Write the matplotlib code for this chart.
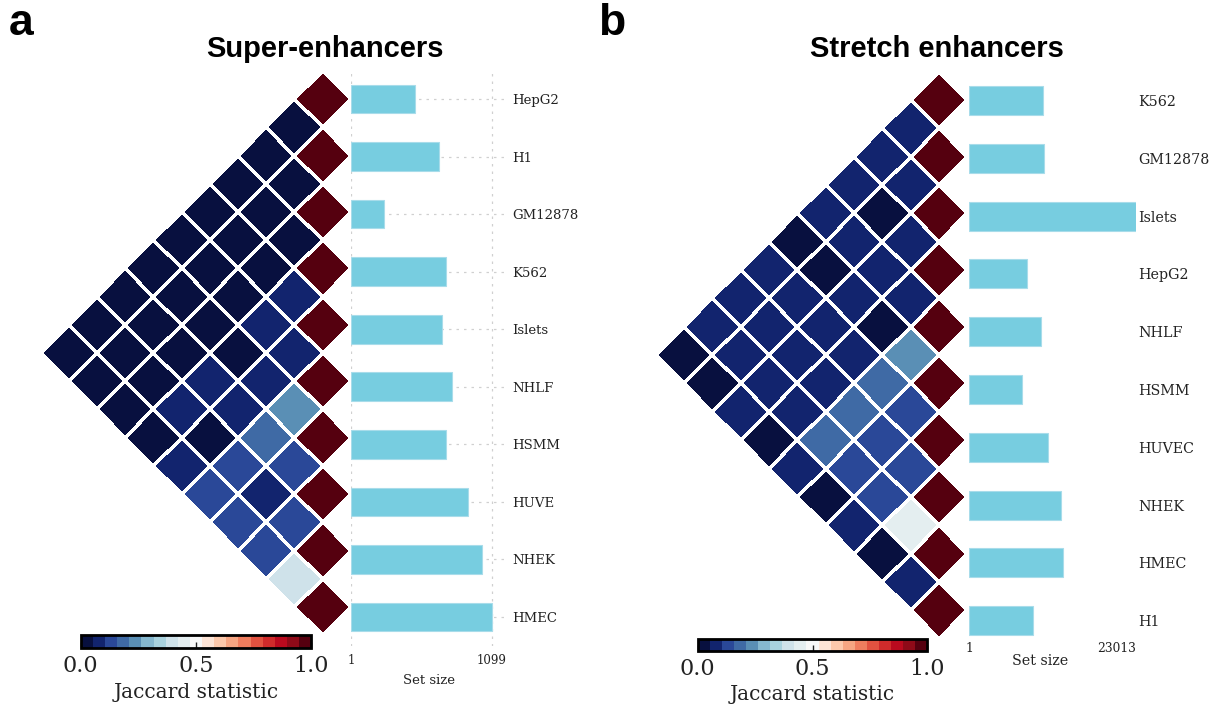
import numpy as np
import matplotlib
matplotlib.use("Agg")
import matplotlib.pyplot as plt
from matplotlib.colors import ListedColormap, Normalize
from matplotlib.transforms import Affine2D
from matplotlib.cm import ScalarMappable

# ---------------- data ----------------
se_labels = ["HepG2", "H1", "GM12878", "K562", "Islets",
             "NHLF", "HSMM", "HUVE", "NHEK", "HMEC"]
se_sizes = [498, 685, 257, 743, 707, 784, 743, 911, 1025, 1099]
# upper triangle of the Jaccard matrix, row i holds columns i+1 .. n-1
se_jaccard = [
    [0.02, 0.01, 0.03, 0.02, 0.03, 0.02, 0.02, 0.03, 0.02],
    [0.02, 0.03, 0.04, 0.03, 0.02, 0.03, 0.03, 0.02],
    [0.03, 0.02, 0.02, 0.01, 0.02, 0.02, 0.02],
    [0.08, 0.07, 0.04, 0.07, 0.06, 0.03],
    [0.09, 0.07, 0.08, 0.04, 0.07],
    [0.24, 0.18, 0.13, 0.12],
    [0.14, 0.09, 0.12],
    [0.13, 0.14],
    [0.39],
]

st_labels = ["K562", "GM12878", "Islets", "HepG2", "NHLF",
             "HSMM", "HUVEC", "NHEK", "HMEC", "H1"]
st_sizes = [10155, 10335, 23013, 7993, 9880, 7303, 10886, 12636, 12953, 8860]
st_jaccard = [
    [0.08, 0.07, 0.08, 0.07, 0.03, 0.06, 0.07, 0.06, 0.03],
    [0.07, 0.04, 0.08, 0.04, 0.07, 0.06, 0.07, 0.03],
    [0.07, 0.08, 0.07, 0.06, 0.07, 0.06, 0.06],
    [0.08, 0.04, 0.07, 0.09, 0.07, 0.04],
    [0.24, 0.19, 0.18, 0.18, 0.08],
    [0.14, 0.13, 0.13, 0.04],
    [0.14, 0.13, 0.08],
    [0.44, 0.04],
    [0.08],
]

# ---------------- style ----------------
plt.rcParams["font.family"] = ["DejaVu Serif"]
W, H = 1222, 708

level_colors = [
    "#08103f", "#12246e", "#2a4898", "#3f6aa5", "#5a8fb5", "#86b8cf",
    "#a9d2de", "#cfe2ea", "#e4eef0", "#f8f8f8", "#fde4d6", "#fcc8ab",
    "#f6a582", "#ef7d5e", "#e25240", "#d02b2b", "#ba0a1e", "#8f0a18",
    "#55000f",
]
cmap = ListedColormap(level_colors)
norm = Normalize(vmin=0.0, vmax=1.0)
bar_color = "#77cde0"
text_color = "#222222"


def px_axes(fig, left, top, right, bottom):
    return fig.add_axes([left / W, 1 - bottom / H, (right - left) / W,
                         (bottom - top) / H])


def full_matrix(upper):
    n = len(upper) + 1
    m = np.full((n, n), np.nan)
    np.fill_diagonal(m, 1.0)
    for i, row in enumerate(upper):
        for k, v in enumerate(row):
            m[i, i + 1 + k] = v
    return np.ma.masked_invalid(m)


def draw_triangle(ax, upper):
    m = full_matrix(upper)
    n = m.shape[0]
    # rotate the grid 45 degrees so that the diagonal stands upright
    tri = Affine2D(np.array([[-0.5, 0.5, 0.0],
                             [0.5, 0.5, -0.5],
                             [0.0, 0.0, 1.0]]))
    ax.pcolormesh(np.arange(n + 1), np.arange(n + 1), m, cmap=cmap,
                  norm=norm, edgecolors="white", linewidth=1.6,
                  transform=tri + ax.transData, clip_on=False)
    ax.set_xlim(-5.0, 0.5)
    ax.set_ylim(n - 0.5, -0.5)
    ax.axis("off")


def draw_bars(ax, labels, sizes, ylim_bottom, xmax, grid, label_size, pad):
    n = len(labels)
    ax.barh(np.arange(n), sizes, height=0.5, color=bar_color,
            edgecolor="#a8dcea", linewidth=0.8, zorder=3)
    ax.set_ylim(ylim_bottom, -0.5)
    ax.set_xlim(0, xmax)
    ax.set_yticks(np.arange(n))
    ax.set_yticklabels(labels, fontsize=label_size, color=text_color)
    ax.yaxis.tick_right()
    ax.tick_params(axis="y", length=0, pad=pad)
    for s in ax.spines.values():
        s.set_visible(False)
    if grid:
        ax.set_axisbelow(True)
        ax.grid(True, linestyle=(0, (2, 4)), color="#d0d0d0", linewidth=0.9)


fig = plt.figure(figsize=(W / 100, H / 100), dpi=100)

# ---------------- panel a ----------------
ax_ha = px_axes(fig, 40.6, 71.1, 350.8, 635.1)
draw_triangle(ax_ha, se_jaccard)

ax_ba = px_axes(fig, 351, 70.2, 506, 645.8)
draw_bars(ax_ba, se_labels, se_sizes, 9.5, max(se_sizes) * 1.1, True, 9.5, 4.3)
ax_ba.set_xticks([1, max(se_sizes)])
ax_ba.set_xticklabels(["1", str(max(se_sizes))], fontsize=8.5,
                      color=text_color)
ax_ba.tick_params(axis="x", length=0, pad=6)
ax_ba.set_xlabel("Set size", fontsize=9.5, color=text_color, labelpad=5)

cax_a = px_axes(fig, 80.7, 635, 311.3, 648)

# ---------------- panel b ----------------
ax_hb = px_axes(fig, 655.5, 71.65, 967.35, 638.65)
draw_triangle(ax_hb, st_jaccard)

ax_bb = px_axes(fig, 969, 71.6, 1136, 638)
draw_bars(ax_bb, st_labels, st_sizes, 9.3, max(st_sizes), False, 10.3, 1.5)
ax_bb.set_xticks([1, max(st_sizes)])
ax_bb.set_xticklabels(["1", str(max(st_sizes))], fontsize=8.8,
                      color=text_color)
ax_bb.get_xticklabels()[1].set_horizontalalignment("right")
ax_bb.tick_params(axis="x", length=0, pad=3)
ax_bb.set_xlabel("Set size", fontsize=10.3, color=text_color)
ax_bb.xaxis.set_label_coords(0.425, -0.028)

cax_b = px_axes(fig, 697.7, 639, 927.3, 651)

# ---------------- colorbars ----------------
for cax in (cax_a, cax_b):
    cb = fig.colorbar(ScalarMappable(norm=norm, cmap=cmap), cax=cax,
                      orientation="horizontal", ticks=[0.0, 0.5, 1.0])
    cb.ax.set_xticklabels(["0.0", "0.5", "1.0"])
    cb.outline.set_linewidth(2.0)
    cb.outline.set_edgecolor("black")
    cb.ax.tick_params(direction="in", length=4, width=1, labelsize=16,
                      pad=5, colors=text_color)
    cb.set_label("Jaccard statistic", fontsize=14.5, color=text_color,
                 labelpad=4)

# ---------------- titles and panel letters ----------------
title_font = dict(family="Liberation Sans", weight="bold", color="black")
fig.text(325 / W, 1 - 57 / H, "Super-enhancers", ha="center",
         va="baseline", fontsize=21, **title_font)
fig.text(937 / W, 1 - 57 / H, "Stretch enhancers", ha="center",
         va="baseline", fontsize=21, **title_font)
fig.text(9 / W, 1 - 35 / H, "a", ha="left", va="baseline", fontsize=32,
         **title_font)
fig.text(598 / W, 1 - 35 / H, "b", ha="left", va="baseline", fontsize=32,
         **title_font)

fig.savefig("out.png", dpi=100, facecolor="white")
